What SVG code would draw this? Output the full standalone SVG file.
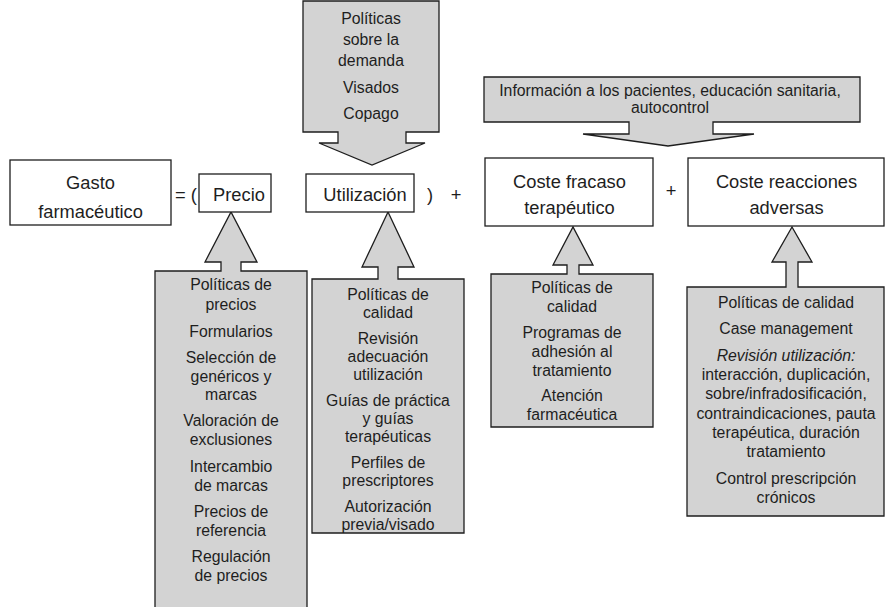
<svg xmlns="http://www.w3.org/2000/svg" width="886" height="607" viewBox="0 0 886 607">
<style>
.box{fill:#ffffff;stroke:#1e1e1e;stroke-width:1.3}
.g{fill:#d3d3d3;stroke:#1e1e1e;stroke-width:1.3;stroke-linejoin:miter}
text{font-family:"Liberation Sans",Arial,sans-serif;fill:#1e1e1e;text-anchor:middle}
.m{font-size:18.3px}
.p{font-size:15.8px}
.i{font-style:italic}
.l{text-anchor:start}
</style>
<rect width="886" height="607" fill="#ffffff"/>
<g id="connectors">
<path id="c-demanda" class="g" d="M303,1 H439 V132 H406 V143 H425 L372,165 L319,143 H338 V132 H303 Z"/>
<path id="c-info" class="g" d="M484,77 H860 V122 H713 V134 H754 L668,146 L583,134 H629 V122 H484 Z"/>
<path id="c-precio" class="g" d="M155,271 H221 V262 H205 L231,212 L257,262 H241 V271 H307 V615 H155 Z"/>
<path id="c-util" class="g" d="M312,279 H378 V267 H362 L388,212 L414,267 H398 V279 H464 V533 H312 Z"/>
<path id="c-fracaso" class="g" d="M491,274 H567 V265 H553 L573,227 L593,265 H579 V274 H653 V427 H491 Z"/>
<path id="c-reac" class="g" d="M687,287 H786 V262 H772 L792,227 L812,262 H798 V287 H884 V516 H687 Z"/>
</g>
<g id="n-gasto">
<rect class="box" x="10" y="160" width="161" height="65"/>
<text class="m" x="90.5" y="189">Gasto</text>
<text class="m" x="90.5" y="218">farmacéutico</text>
</g>
<g id="n-ops1"><text class="m l" x="175" y="201">= (</text></g>
<g id="n-precio">
<rect class="box" x="199" y="174" width="72" height="38"/>
<text class="m" x="239" y="201">Precio</text>
</g>
<g id="n-util">
<rect class="box" x="306" y="174" width="108" height="38"/>
<text class="m" x="365" y="201">Utilización</text>
</g>
<g id="n-ops2"><text class="m l" x="427" y="201">)</text><text class="m" x="456" y="201">+</text></g>
<g id="n-fracaso">
<rect class="box" x="485" y="158" width="168" height="68"/>
<text class="m" x="569.5" y="188">Coste fracaso</text>
<text class="m" x="569.5" y="214">terapéutico</text>
</g>
<g id="n-ops3"><text class="m" x="671" y="197">+</text></g>
<g id="n-reac">
<rect class="box" x="688" y="158" width="196" height="68"/>
<text class="m" x="786.5" y="188">Coste reacciones</text>
<text class="m" x="786.5" y="214">adversas</text>
</g>
<g id="n-demanda">
<text class="p" x="371" y="24">Políticas</text>
<text class="p" x="371" y="45">sobre la</text>
<text class="p" x="371" y="66">demanda</text>
<text class="p" x="371" y="93">Visados</text>
<text class="p" x="371" y="119">Copago</text>
</g>
<g id="n-info">
<text class="p" x="670" y="96">Información a los pacientes, educación sanitaria,</text>
<text class="p" x="670" y="113">autocontrol</text>
</g>
<g id="n-pol-precio">
<text class="p" x="231" y="290">Políticas de</text>
<text class="p" x="231" y="310">precios</text>
<text class="p" x="231" y="337">Formularios</text>
<text class="p" x="231" y="363">Selección de</text>
<text class="p" x="231" y="382">genéricos y</text>
<text class="p" x="231" y="400">marcas</text>
<text class="p" x="231" y="426">Valoración de</text>
<text class="p" x="231" y="445">exclusiones</text>
<text class="p" x="231" y="472">Intercambio</text>
<text class="p" x="231" y="491">de marcas</text>
<text class="p" x="231" y="517">Precios de</text>
<text class="p" x="231" y="536">referencia</text>
<text class="p" x="231" y="562">Regulación</text>
<text class="p" x="231" y="581">de precios</text>
</g>
<g id="n-pol-util">
<text class="p" x="388" y="300">Políticas de</text>
<text class="p" x="388" y="318">calidad</text>
<text class="p" x="388" y="344">Revisión</text>
<text class="p" x="388" y="362">adecuación</text>
<text class="p" x="388" y="380">utilización</text>
<text class="p" x="388" y="406">Guías de práctica</text>
<text class="p" x="388" y="424">y guías</text>
<text class="p" x="388" y="442">terapéuticas</text>
<text class="p" x="388" y="468">Perfiles de</text>
<text class="p" x="388" y="486">prescriptores</text>
<text class="p" x="388" y="512">Autorización</text>
<text class="p" x="388" y="530">previa/visado</text>
</g>
<g id="n-pol-fracaso">
<text class="p" x="572" y="293">Políticas de</text>
<text class="p" x="572" y="312">calidad</text>
<text class="p" x="572" y="338">Programas de</text>
<text class="p" x="572" y="357">adhesión al</text>
<text class="p" x="572" y="376">tratamiento</text>
<text class="p" x="572" y="401">Atención</text>
<text class="p" x="572" y="420">farmacéutica</text>
</g>
<g id="n-pol-reac">
<text class="p" x="786" y="308">Políticas de calidad</text>
<text class="p" x="786" y="334">Case management</text>
<text class="p i" x="786" y="361">Revisión utilización:</text>
<text class="p" x="786" y="380">interacción, duplicación,</text>
<text class="p" x="786" y="399">sobre/infradosificación,</text>
<text class="p" x="786" y="419">contraindicaciones, pauta</text>
<text class="p" x="786" y="438">terapéutica, duración</text>
<text class="p" x="786" y="457">tratamiento</text>
<text class="p" x="786" y="484">Control prescripción</text>
<text class="p" x="786" y="503">crónicos</text>
</g>
</svg>
